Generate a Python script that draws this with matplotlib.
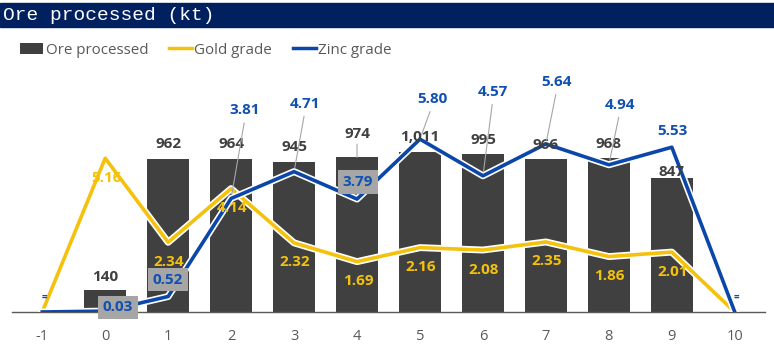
import matplotlib
matplotlib.use('Agg')
import matplotlib.pyplot as plt
import matplotlib.patheffects as pe
from matplotlib.patches import Rectangle, Patch
from matplotlib.lines import Line2D

# data
periods = [-1, 0, 1, 2, 3, 4, 5, 6, 7, 8, 9, 10]
ore_kt = [0, 140, 962, 964, 945, 974, 1011, 995, 966, 968, 847, 0]
gold_grade = [0, 5.16, 2.34, 4.14, 2.32, 1.69, 2.16, 2.08, 2.35, 1.86, 2.01, 0]
zinc_grade = [0, 0.03, 0.52, 3.81, 4.71, 3.79, 5.80, 4.57, 5.64, 4.94, 5.53, 0]
zinc_text = ['=', '0.03', '0.52', '3.81', '4.71', '3.79', '5.80', '4.57', '5.64', '4.94', '5.53', '=']

# label offsets in pixels (dx, dy up)
ore_off = [None, (0, 13), (0, 15), (0, 15), (0, 15), (0, 23), (0, 15), (0, 14), (0, 14), (0, 14), (0, 6), None]
zinc_off = [(2, 15), (13, 4), (0, 17), (14, 88), (11, 68), (1, 17), (12, 40), (10, 84), (11, 62), (11, 60), (1, 16), (2, 15)]
zinc_leader = [3, 4, 6, 7, 8, 9]
zinc_box = [1, 2, 5]

BAR = '#404040'
GOLD = '#F4C20D'
ZINC = '#0B47A9'
GREY = '#595959'
LABEL_FONT = ['Open Sans', 'DejaVu Sans']
plt.rcParams['font.family'] = ['Open Sans', 'DejaVu Sans']

fig = plt.figure(figsize=(7.74, 3.57), dpi=100)
ax = fig.add_axes([12 / 774, 45 / 357, 753 / 774, 250 / 357])
ax2 = ax.twinx()

ax.bar(periods, ore_kt, width=0.67, color=BAR, zorder=2)
ax.set_xlim(-1.48, 10.48)
ax.set_ylim(0, 250 / 0.1587)
ax2.set_ylim(0, 250 / 29.8)

outline = [pe.withStroke(linewidth=5, foreground='white')]
ax2.plot(periods, gold_grade, color=GOLD, lw=2.6, path_effects=outline, zorder=3)
ax2.plot(periods, zinc_grade, color=ZINC, lw=2.6, path_effects=outline, zorder=4)

for a in (ax, ax2):
    for s in ['top', 'right', 'left']:
        a.spines[s].set_visible(False)
    a.set_yticks([])
ax2.spines['bottom'].set_visible(False)
ax.spines['bottom'].set_color(GREY)
ax.spines['bottom'].set_linewidth(1)
ax.set_xticks(periods)
ax.set_xticklabels([str(p) for p in periods])
ax.tick_params(axis='x', length=0, pad=12, labelsize=10.5, labelcolor=GREY)

# bar labels (drawn on ax2 so they sit above the lines)
for i, v in enumerate(ore_kt):
    if ore_off[i] is None:
        continue
    kw = {}
    if i == 5:
        kw['arrowprops'] = dict(arrowstyle='-', color='#A6A6A6', lw=0.8, relpos=(0.5, 0), shrinkA=0, shrinkB=0)
    ax2.annotate('{:,.0f}'.format(v), xy=(periods[i], v), xycoords=ax.transData,
                 xytext=ore_off[i], textcoords='offset pixels', ha='center', va='center',
                 family=LABEL_FONT, fontsize=11, fontweight='bold', color=BAR, zorder=6, **kw)

# gold labels
for i, v in enumerate(gold_grade):
    if v == 0:
        continue
    ax2.annotate('{:.2f}'.format(v), xy=(periods[i], v), xytext=(1, -19.5), textcoords='offset pixels',
                 ha='center', va='center', family=LABEL_FONT, fontsize=11, fontweight='bold',
                 color=GOLD, zorder=6)

# zinc labels
for i, v in enumerate(zinc_grade):
    kw = {}
    if i in zinc_leader:
        kw['arrowprops'] = dict(arrowstyle='-', color='#A6A6A6', lw=0.8, relpos=(0.5, 0), shrinkA=2, shrinkB=3)
    if i in zinc_box:
        kw['bbox'] = dict(boxstyle='square,pad=0.3', fc='#A6A6A6', ec='none')
    fs = 11 if zinc_text[i] != '=' else 7
    ax2.annotate(zinc_text[i], xy=(periods[i], v), xytext=zinc_off[i], textcoords='offset pixels',
                 ha='center', va='center', family=LABEL_FONT, fontsize=fs, fontweight='bold',
                 color='#1050B0', zorder=7, **kw)

# legend
handles = [Patch(facecolor=BAR), Line2D([], [], color=GOLD, lw=2.5), Line2D([], [], color=ZINC, lw=2.5)]
leg = fig.legend(handles, ['Ore processed', 'Gold grade', 'Zinc grade'], ncol=3, frameon=False,
                 loc='center left', bbox_to_anchor=(20 / 774, 1 - 50 / 357), borderpad=0, borderaxespad=0,
                 handlelength=1.55, handletextpad=0.15, columnspacing=1.35, fontsize=10.9)
for t in leg.get_texts():
    t.set_color(GREY)

# title bar
fig.patches.append(Rectangle((0, 1 - 27 / 357), 1, 24 / 357, transform=fig.transFigure, color='#002060', zorder=0))
fig.text(3 / 774, 1 - 15.5 / 357, 'Ore processed (kt)', family='Liberation Mono', fontsize=14,
         color='white', va='center', ha='left')

fig.savefig('out.png', dpi=100)
